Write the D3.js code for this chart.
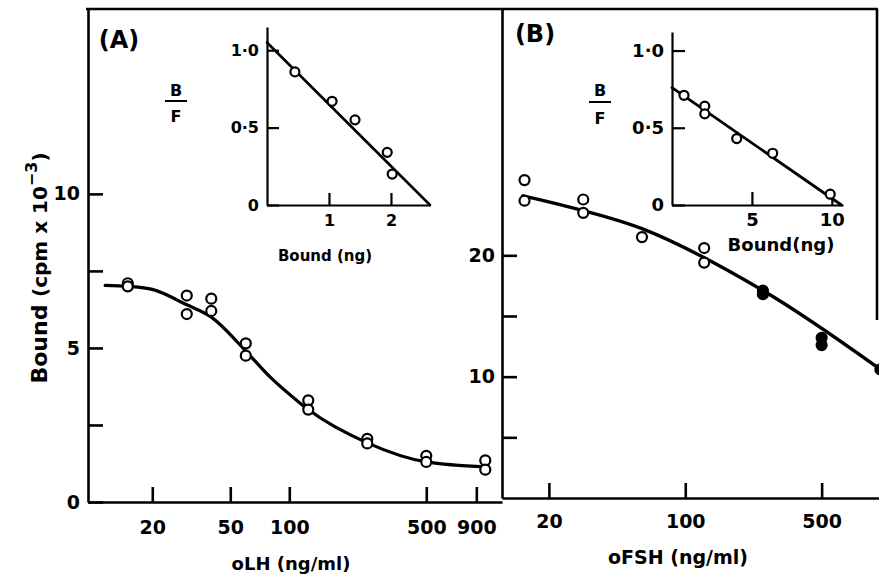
<!DOCTYPE html>
<html>
<head>
<meta charset="utf-8">
<script src="https://cdn.jsdelivr.net/npm/d3@7/dist/d3.min.js"></script>
<style>
  body { margin: 0; background: #fff; }
  svg { display: block; font-family: "DejaVu Sans", sans-serif; font-weight: bold; }
  .axis path, .axis line { stroke: #000; stroke-width: 2.6; }
  .axis text { fill: #000; font-size: 19px; font-family: "DejaVu Sans", sans-serif; font-weight: bold; }
  .inset path, .inset line { stroke-width: 2.2; }
  .inset text { font-size: 16px; }
</style>
</head>
<body>
<svg id="chart" width="879" height="574"></svg>
<script>
// panel A: oLH displacement
const lhDose = [15, 15, 30, 30, 40, 40, 60, 60, 125, 125, 250, 250, 500, 500, 1000, 1000]
const lhBound = [7.1, 7.0, 6.7, 6.1, 6.6, 6.2, 5.15, 4.75, 3.3, 3.0, 2.05, 1.9, 1.5, 1.3, 1.35, 1.05]
const lhCurveDose = [11.5, 15, 20, 30, 40, 60, 80, 114, 125, 250, 500, 1000]
const lhCurveBound = [7.03, 7.0, 6.9, 6.4, 6.0, 4.9, 4.05, 3.2, 3.0, 1.92, 1.3, 1.14]
const lhTicksX = [20, 50, 100, 500, 900]
const lhTicksY = [0, 2.5, 5, 7.5, 10]

// panel A inset: Scatchard
const lhScatBound = [0.45, 1.05, 1.42, 1.94, 2.02]
const lhScatBF = [0.86, 0.67, 0.55, 0.34, 0.2]
const lhScatLineX = [0, 2.63]
const lhScatLineY = [1.05, 0]
const lhInsetTicksX = [1, 2]

// panel B: oFSH displacement
const fshDose = [15, 15, 30, 30, 60, 125, 125]
const fshBound = [26.2, 24.5, 24.6, 23.5, 21.5, 20.6, 19.4]
const fshSolidDose = [250, 250, 500, 500, 1000]
const fshSolidBound = [17.1, 16.8, 13.2, 12.6, 10.6]
const fshCurveDose = [14.7, 60, 250, 1000]
const fshCurveBound = [24.9, 22.2, 17.1, 10.6]
const fshTicksX = [20, 100, 500]
const fshTicksY = [5, 10, 15, 20]

// panel B inset: Scatchard
const fshScatBound = [0.75, 2.05, 2.05, 4.05, 6.3, 9.9]
const fshScatBF = [0.71, 0.64, 0.59, 0.43, 0.335, 0.07]
const fshScatLineX = [0, 10.6]
const fshScatLineY = [0.76, 0]
const fshInsetTicksX = [5, 10]

const insetTicksY = [0, 0.5, 1.0]
const insetLabel = d => d === 0 ? '0' : d3.format('.1f')(d).replace('.', '·')

const svg = d3.select('#chart')
svg.append('rect').attr('width', 879).attr('height', 574).attr('fill', '#fff')

// scales
const xA = d3.scaleLog().domain([9.4, 1217]).range([88, 502])
const yA = d3.scaleLinear().domain([0, 16]).range([502, 9])
const xB = d3.scaleLog().domain([11.5, 984]).range([502, 879])
const yB = d3.scaleLinear().domain([0, 40.3]).range([498, 9])

const xIA = d3.scaleLinear().domain([0, 2.63]).range([267, 430])
const yIA = d3.scaleLinear().domain([0, 1.15]).range([205, 27])
const xIB = d3.scaleLinear().domain([0, 10.7]).range([672, 843])
const yIB = d3.scaleLinear().domain([0, 1.12]).range([205, 32])

// frame
svg.append('line').attr('x1', 86).attr('x2', 878).attr('y1', 9).attr('y2', 9)
    .attr('stroke', '#000').attr('stroke-width', 2.6)
svg.append('line').attr('x1', 877).attr('x2', 877).attr('y1', 9).attr('y2', 320)
    .attr('stroke', '#000').attr('stroke-width', 2.6)

function drawAxes(x, y, ticksX, ticksY, fmtY, opts) {
    let gx = svg.append('g').attr('class', 'axis ' + (opts.cls || ''))
        .attr('transform', `translate(0,${y.range()[0]})`)
        .call(d3.axisBottom(x).tickValues(ticksX).tickFormat(opts.fmtX || (d => d))
            .tickSize(-opts.tick).tickSizeOuter(0).tickPadding(opts.padX))
    let gy = svg.append('g').attr('class', 'axis ' + (opts.cls || ''))
        .attr('transform', `translate(${x.range()[0]},0)`)
        .call(d3.axisLeft(y).tickValues(ticksY).tickFormat(fmtY)
            .tickSize(-opts.tick).tickSizeOuter(0).tickPadding(opts.padY))
    return [gx, gy]
}

drawAxes(xA, yA, lhTicksX, lhTicksY, d => d % 5 === 0 ? d : '', {tick: 15, padX: 19, padY: 8})
drawAxes(xB, yB, fshTicksX, fshTicksY, d => d % 10 === 0 ? d : '', {tick: 15, padX: 17, padY: 7})
drawAxes(xIA, yIA, lhInsetTicksX, insetTicksY, insetLabel, {tick: 12, padX: 10, padY: 8, cls: 'inset'})
let ib = drawAxes(xIB, yIB, fshInsetTicksX, insetTicksY, insetLabel, {tick: 13, padX: 8, padY: 8, cls: 'inset'})
ib.forEach(g => g.selectAll('text').style('font-size', '18px'))

// curves
function drawCurve(x, y, xs, ys, curve, width) {
    svg.append('path')
        .datum(d3.zip(xs, ys))
        .attr('fill', 'none').attr('stroke', '#000').attr('stroke-width', width)
        .attr('stroke-linecap', 'round')
        .attr('d', d3.line().x(d => x(d[0])).y(d => y(d[1])).curve(curve))
}
drawCurve(xA, yA, lhCurveDose, lhCurveBound, d3.curveMonotoneX, 3.2)
drawCurve(xB, yB, fshCurveDose, fshCurveBound, d3.curveCatmullRom, 3.4)
drawCurve(xIA, yIA, lhScatLineX, lhScatLineY, d3.curveLinear, 2.6)
drawCurve(xIB, yIB, fshScatLineX, fshScatLineY, d3.curveLinear, 2.8)

// points
function drawPoints(x, y, xs, ys, r, fill) {
    svg.append('g').selectAll('circle')
        .data(d3.zip(xs, ys))
        .enter().append('circle')
        .attr('cx', d => x(d[0])).attr('cy', d => y(d[1])).attr('r', r)
        .attr('fill', fill).attr('stroke', '#000').attr('stroke-width', 2.2)
}
drawPoints(xA, yA, lhDose, lhBound, 5, '#fff')
drawPoints(xB, yB, fshDose, fshBound, 5, '#fff')
drawPoints(xB, yB, fshSolidDose, fshSolidBound, 5, '#000')
drawPoints(xIA, yIA, lhScatBound, lhScatBF, 4.5, '#fff')
drawPoints(xIB, yIB, fshScatBound, fshScatBF, 4.5, '#fff')

// texts
function label(x, y, text, size, anchor) {
    return svg.append('text').attr('x', x).attr('y', y)
        .attr('text-anchor', anchor || 'middle').attr('font-size', size).text(text)
}
label(119, 48, '(A)', 24)
label(535, 42, '(B)', 24)
label(291, 570, 'oLH (ng/ml)', 18)
label(678, 564, 'oFSH (ng/ml)', 19)
label(325, 261, 'Bound (ng)', 15)
label(781, 251, 'Bound(ng)', 18)

function fraction(cx, yB, yLine, yF) {
    label(cx, yB, 'B', 16)
    svg.append('line').attr('x1', cx - 11).attr('x2', cx + 11).attr('y1', yLine).attr('y2', yLine)
        .attr('stroke', '#000').attr('stroke-width', 2)
    label(cx, yF, 'F', 16)
}
fraction(176, 96, 101, 122)
fraction(600, 96, 102, 124)

let yl = svg.append('text')
    .attr('transform', 'translate(47,268) rotate(-90)')
    .attr('text-anchor', 'middle')
yl.append('tspan').attr('font-size', 22).text('Bound ')
yl.append('tspan').attr('font-size', 20).text('(cpm x 10')
yl.append('tspan').attr('font-size', 16).attr('dy', -10).text('−3')
yl.append('tspan').attr('font-size', 20).attr('dy', 10).text(')')
</script>
</body>
</html>
